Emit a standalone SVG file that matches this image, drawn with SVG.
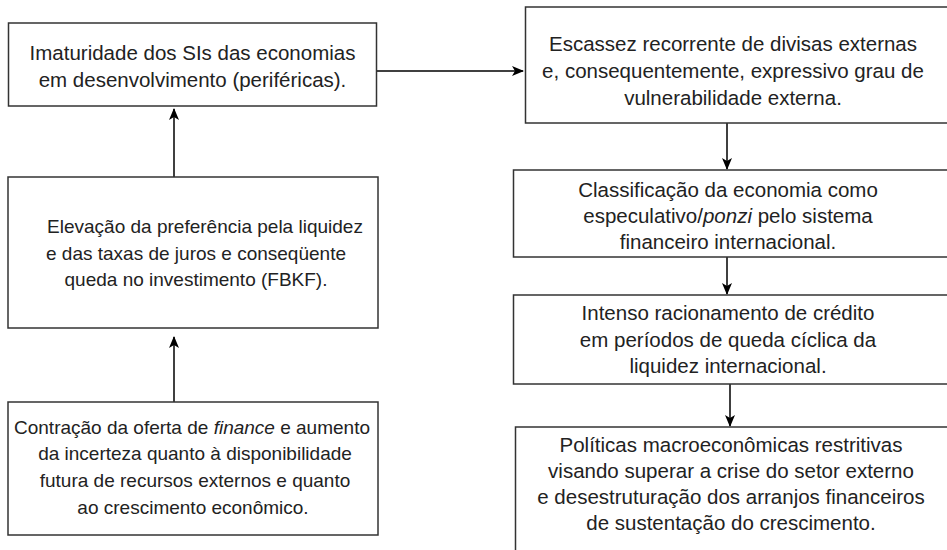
<svg xmlns="http://www.w3.org/2000/svg" width="947" height="550" viewBox="0 0 947 550">
<style>
.box{fill:#fff;stroke:#333;stroke-width:1.5}
.t{font-family:"Liberation Sans",Arial,sans-serif;font-size:20.5px;fill:#222;text-anchor:middle}
.s{font-size:19px}
.c{stroke:#000;stroke-width:1.5;fill:none;marker-end:url(#ah)}
</style>
<defs>
<marker id="ah" markerWidth="12" markerHeight="10" refX="11" refY="5" orient="auto" markerUnits="userSpaceOnUse">
<path d="M0,0 L12,5 L0,10 L3,5 z" fill="#000"/>
</marker>
</defs>
<rect width="947" height="550" fill="#fff"/>
<g id="connectors">
<line class="c" x1="377" y1="71" x2="523" y2="71"/>
<line class="c" x1="174" y1="402" x2="174" y2="337"/>
<line class="c" x1="174" y1="177" x2="174" y2="109"/>
<line class="c" x1="727" y1="123" x2="727" y2="169"/>
<line class="c" x1="727" y1="257" x2="727" y2="294"/>
<line class="c" x1="730" y1="384" x2="730" y2="426"/>
</g>
<g id="n1">
<rect class="box" x="8.5" y="23" width="368" height="83"/>
<text class="t" x="192.5" y="60">Imaturidade dos SIs das economias</text>
<text class="t" x="192.5" y="87">em desenvolvimento (periféricas).</text>
</g>
<g id="n2">
<rect class="box" x="8" y="177" width="370" height="151"/>
<text class="t s" x="205" y="233">Elevação da preferência pela liquidez</text>
<text class="t s" x="196" y="260">e das taxas de juros e conseqüente</text>
<text class="t s" x="196" y="286">queda no investimento (FBKF).</text>
</g>
<g id="n3">
<rect class="box" x="8" y="402" width="370" height="133"/>
<text class="t s" x="192" y="434">Contração da oferta de <tspan font-style="italic">finance</tspan> e aumento</text>
<text class="t s" x="195" y="460">da incerteza quanto à disponibilidade</text>
<text class="t s" x="195" y="487">futura de recursos externos e quanto</text>
<text class="t s" x="193" y="514">ao crescimento econômico.</text>
</g>
<g id="n4">
<rect class="box" x="525.5" y="7" width="440" height="116"/>
<text class="t" x="733" y="51">Escassez recorrente de divisas externas</text>
<text class="t" x="733" y="78">e, consequentemente, expressivo grau de</text>
<text class="t" x="733" y="105">vulnerabilidade externa.</text>
</g>
<g id="n5">
<rect class="box" x="513.5" y="170" width="450" height="87"/>
<text class="t" x="728" y="197">Classificação da economia como</text>
<text class="t" x="728" y="223">especulativo/<tspan font-style="italic">ponzi</tspan> pelo sistema</text>
<text class="t" x="728" y="249">financeiro internacional.</text>
</g>
<g id="n6">
<rect class="box" x="513.5" y="295" width="450" height="89"/>
<text class="t" x="728" y="320">Intenso racionamento de crédito</text>
<text class="t" x="728" y="347">em períodos de queda cíclica da</text>
<text class="t" x="728" y="373">liquidez internacional.</text>
</g>
<g id="n7">
<rect class="box" x="515.5" y="427" width="450" height="140"/>
<text class="t" x="731" y="452">Políticas macroeconômicas restritivas</text>
<text class="t" x="731" y="478">visando superar a crise do setor externo</text>
<text class="t" x="731" y="504">e desestruturação dos arranjos financeiros</text>
<text class="t" x="731" y="530">de sustentação do crescimento.</text>
</g>
</svg>
